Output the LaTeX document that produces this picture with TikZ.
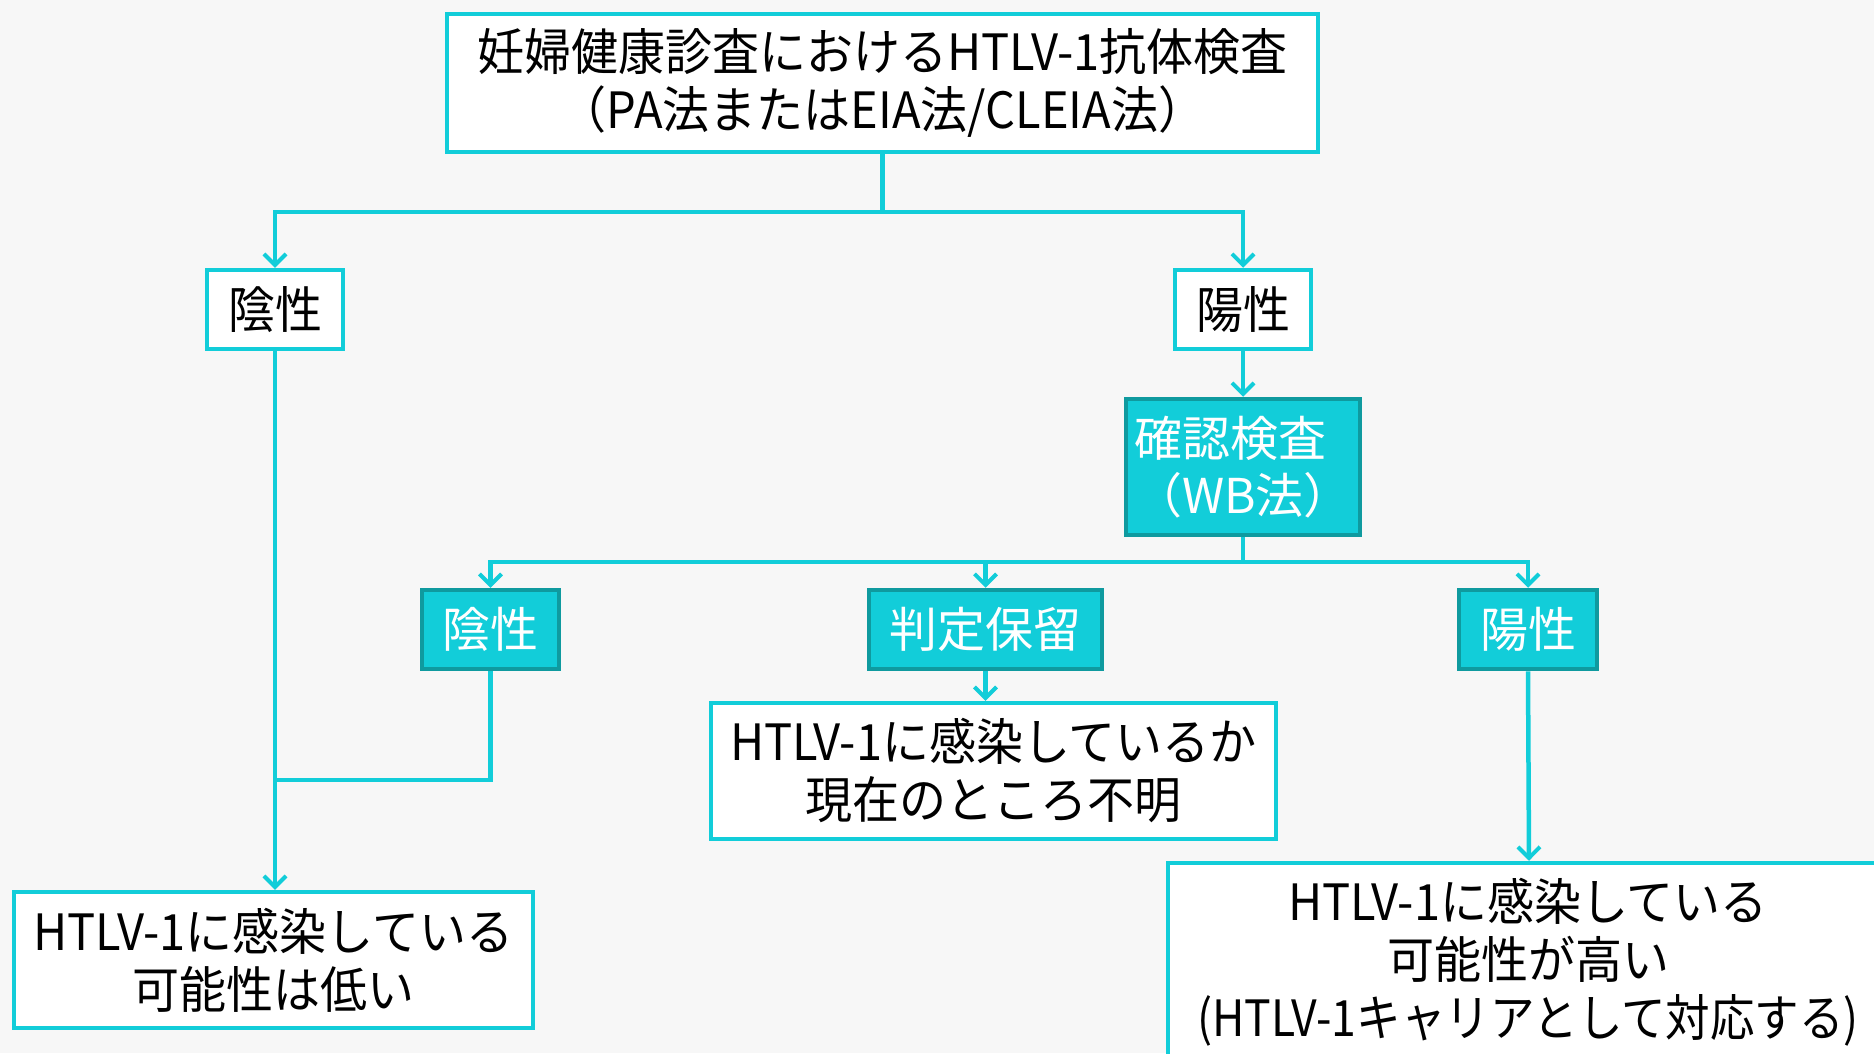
\documentclass[tikz,border=0pt]{standalone}
\usepackage{fontspec}
\setmainfont{Noto Sans CJK JP}
\newfontfamily\blk[FakeStretch=0.94]{Noto Sans CJK JP}
\newfontfamily\blknarrow[FakeStretch=0.89]{Noto Sans CJK JP}
\usetikzlibrary{arrows.meta}
\definecolor{cy}{HTML}{12CDD9}
\definecolor{tealdark}{HTML}{0F9A9F}
\definecolor{bgc}{HTML}{F7F7F7}
\begin{document}
\begin{tikzpicture}[x=1pt,y=-1pt,
  wbox/.style={draw=cy, line width=4.5pt, fill=white, inner sep=0pt, align=center,
     font=\blk\fontsize{50}{58}\selectfont, text=black},
  fbox/.style={draw=tealdark, line width=4.5pt, fill=cy, inner sep=0pt, align=center,
     font=\fontsize{48}{57}\selectfont, text=white},
  txt/.style={inner sep=0pt, align=center, font=\blk\fontsize{50}{58}\selectfont, text=black},
  conn/.style={draw=cy, line width=4.5pt},
  arr/.style={conn, -{Straight Barb[length=11pt,width=22pt,line width=4pt]}}]
\fill[bgc] (0,0) rectangle (1874,1053);
\useasboundingbox (0,0) rectangle (1874,1053);
\node[wbox, minimum width=871pt, minimum height=138pt] (top) at (882.5,83)
  {妊婦健康診査におけるHTLV-1抗体検査\\（PA法またはEIA法/CLEIA法）};
\node[wbox, minimum width=136pt, minimum height=79pt] (neg1) at (275,309.5) {陰性};
\node[wbox, minimum width=136pt, minimum height=79pt] (pos1) at (1243,309.5) {陽性};
\node[fbox, minimum width=234pt, minimum height=136pt, align=left] (wb) at (1243,467)
  {確認検査\\（WB法）};
\node[fbox, minimum width=137pt, minimum height=79pt] (neg2) at (490.5,629.5) {陰性};
\node[fbox, minimum width=233pt, minimum height=79pt] (hold) at (985.5,629.5) {判定保留};
\node[fbox, minimum width=138pt, minimum height=79pt] (pos2) at (1528,629.5) {陽性};
\node[wbox, minimum width=565pt, minimum height=136pt] (unk) at (993.5,771)
  {HTLV-1に感染しているか\\現在のところ不明};
\node[wbox, minimum width=519pt, minimum height=136pt] (low) at (273.5,960)
  {HTLV-1に感染している\\可能性は低い};
\node[wbox, minimum width=722pt, minimum height=220pt] (high) at (1529,973) {};
\node[txt] (hightext) at (1528,962)
  {HTLV-1に感染している\\可能性が高い\\{\blknarrow (HTLV-1キャリアとして対応する)}};
\coordinate (j1) at (882.5,212);
\coordinate (j2) at (1243,562);
\coordinate (j3) at (275,780);
\draw[conn] (top.south) -- (j1);
\draw[arr] (j1) -| (neg1.north);
\draw[arr] (j1) -| (pos1.north);
\draw[arr] (pos1.south) -- (wb.north);
\draw[conn] (wb.south) -- (j2);
\draw[arr] (j2) -| (neg2.north);
\draw[arr] (j2) -| (hold.north);
\draw[arr] (j2) -| (pos2.north);
\draw[arr] (hold.south) -- (hold.south |- unk.north);
\draw[arr] (neg1.south) -- (neg1.south |- low.north);
\draw[conn] (neg2.south) |- (j3);
\draw[arr] (pos2.south) -- (high.north);
\end{tikzpicture}
\end{document}
